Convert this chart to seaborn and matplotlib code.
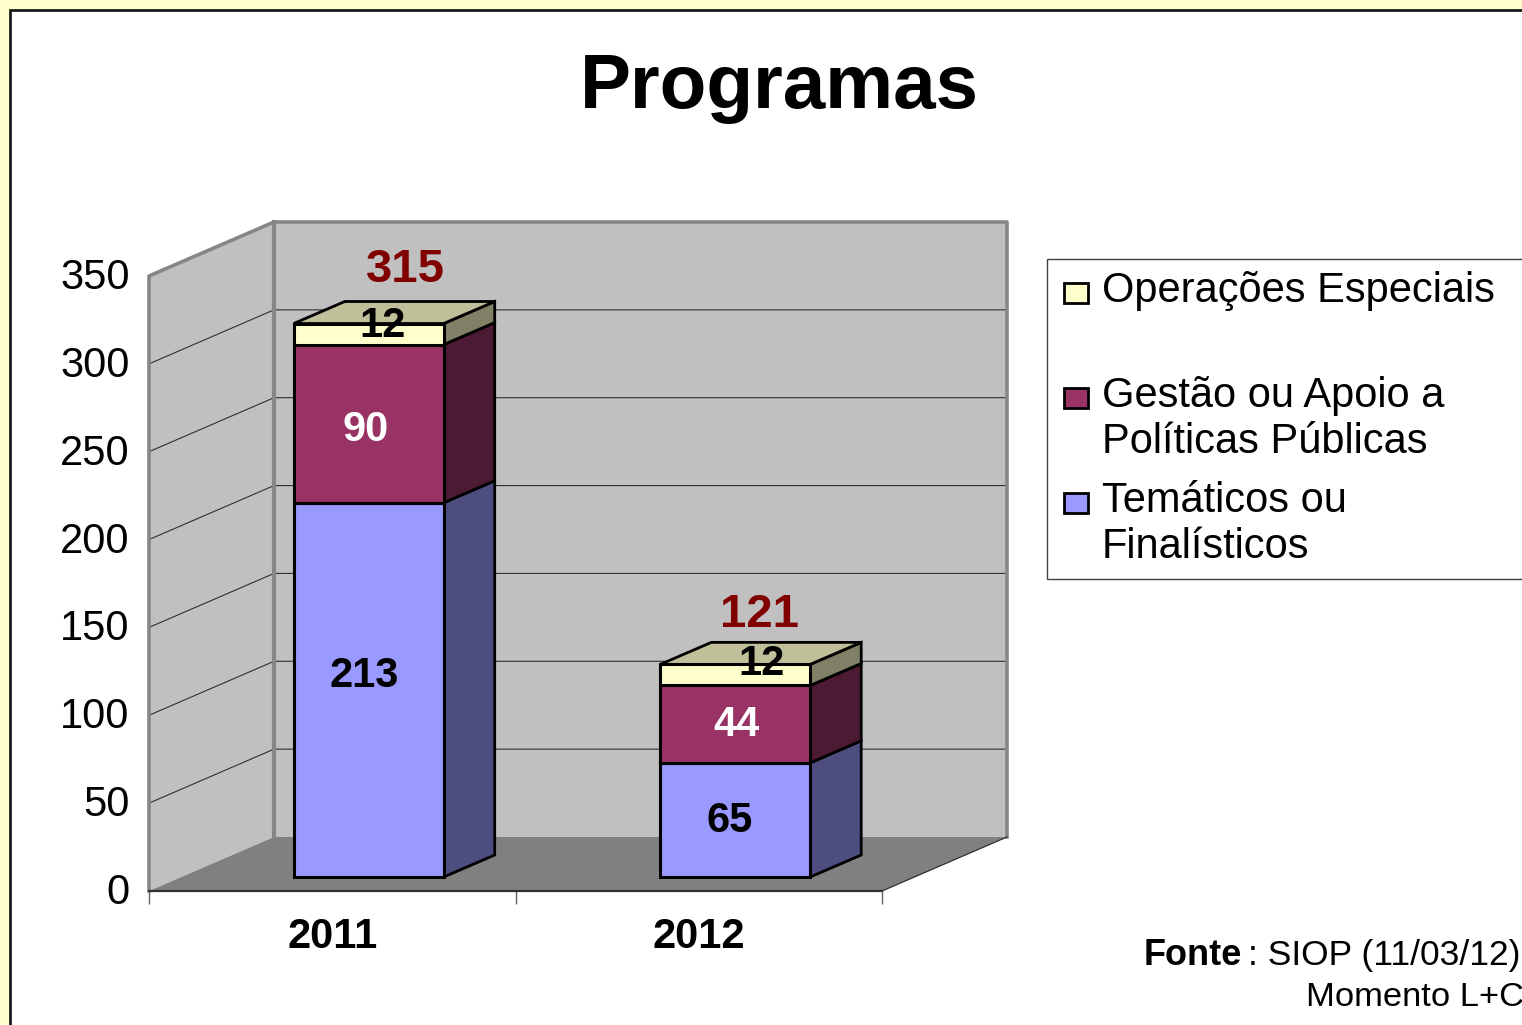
import matplotlib
matplotlib.use("Agg")
import matplotlib.pyplot as plt
import numpy as np
import seaborn as sns
from matplotlib.legend_handler import HandlerPatch
from matplotlib.patches import Patch, Polygon, Rectangle
from matplotlib.transforms import Affine2D, IdentityTransform

# data
YEARS = ["2011", "2012"]
TEMATICOS = [213, 65]
GESTAO = [90, 44]
OPERACOES = [12, 12]
TOTALS = [315, 121]
Y_TICKS = [0, 50, 100, 150, 200, 250, 300, 350]

# look
W, H = 1522, 1025
WALL_SHIFT = (125, 54)
BAR_SHIFT = (36.5, 14)
BAR_DEPTH = (51, 22)
WALL = "#C0C0C0"
WALL_EDGE = "#868686"
FLOOR = "#808080"
FRONT = ["#9999FF", "#993366", "#FFFFCC"]
SIDE = ["#4D4D80", "#4D1A33", "#808066"]
TOP = "#BFBF99"
RED = "#800000"

sns.set_theme(style="white")
plt.rcParams["font.family"] = ["Liberation Sans", "DejaVu Sans"]

fig = plt.figure(figsize=(W / 100, H / 100), dpi=100, facecolor="#FFFFCC")
ax = fig.add_axes([149 / W, (H - 891) / H, 733 / W, 615 / H])
ax.patch.set_visible(False)

# white slide panel with its dark corner
fig.patches.append(Rectangle((10, -5), W, H - 5, transform=IdentityTransform(), facecolor="white",
                             edgecolor="#1A1A1A", linewidth=2, zorder=-5))

bottom = np.zeros(len(YEARS))
stacks = []
for values, color in zip([TEMATICOS, GESTAO, OPERACOES], FRONT):
    sns.barplot(x=YEARS, y=values, bottom=bottom, color=color, saturation=1, width=0.409,
                edgecolor="black", linewidth=2.2, errorbar=None, ax=ax, zorder=3)
    stacks.append(ax.containers[-1])
    bottom = bottom + np.array(values)

ax.set_xlim(-0.5, 1.5)
ax.set_ylim(0, 350)


def to_px(x, y, shift=(0, 0)):
    px = ax.transData.transform((x, y))
    return px[0] + shift[0], px[1] + shift[1]


def face(points, color, edge="none", lw=0.0, z=1.0):
    ax.add_patch(Polygon(points, closed=True, transform=IdentityTransform(), facecolor=color,
                         edgecolor=edge, linewidth=lw, zorder=z, clip_on=False, joinstyle="miter"))


def wire(points, color, lw, z=1.2):
    xs, ys = zip(*points)
    ax.plot(xs, ys, color=color, lw=lw, transform=IdentityTransform(), zorder=z,
            clip_on=False, solid_capstyle="projecting")


# walls and floor
fl, fr = to_px(-0.5, 0), to_px(1.5, 0)
tl, tr = to_px(-0.5, 350), to_px(1.5, 350)
bl, br = to_px(-0.5, 0, WALL_SHIFT), to_px(1.5, 0, WALL_SHIFT)
btl, btr = to_px(-0.5, 350, WALL_SHIFT), to_px(1.5, 350, WALL_SHIFT)
face([bl, br, btr, btl], WALL)
face([fl, bl, btl, tl], WALL)
face([fl, fr, br, bl], FLOOR, z=1.05)
for t in Y_TICKS[1:-1]:
    wire([to_px(-0.5, t), to_px(-0.5, t, WALL_SHIFT), to_px(1.5, t, WALL_SHIFT)], "#303030", 0.8, 1.1)
wire([fl, tl, btl, btr, br], WALL_EDGE, 2.6)
wire([bl, btl], WALL_EDGE, 3.0)
wire([fr, br], "#303030", 0.9)
wire([fl, fr], "#303030", 1.6)

# depth of the bars, built from the bars seaborn drew
bar_tr = ax.transData + Affine2D().translate(*BAR_SHIFT)
for k, bars in enumerate(stacks):
    for bar in bars:
        bar.set_transform(bar_tr)
        bar.set_clip_on(False)
        x1 = bar.get_x() + bar.get_width()
        y0, y1 = bar.get_y(), bar.get_y() + bar.get_height()
        a = to_px(x1, y0, BAR_SHIFT)
        b = to_px(x1, y1, BAR_SHIFT)
        c = (b[0] + BAR_DEPTH[0], b[1] + BAR_DEPTH[1])
        d = (a[0] + BAR_DEPTH[0], a[1] + BAR_DEPTH[1])
        face([a, b, c, d], SIDE[k], "black", 2.0, 2.5)
        if k == len(stacks) - 1:
            e = to_px(bar.get_x(), y1, BAR_SHIFT)
            f = (e[0] + BAR_DEPTH[0], e[1] + BAR_DEPTH[1])
            face([e, b, c, f], TOP, "black", 2.0, 2.5)

# value labels, nudged by hand from the bar centres
label_nudge = [[(-5, 18), (-6, 3)], [(-3, -2), (1, 4)], [(14, 13), (26, 15)]]
label_color = ["black", "white", "black"]
for k, (bars, values) in enumerate(zip(stacks, [TEMATICOS, GESTAO, OPERACOES])):
    for j, (bar, v) in enumerate(zip(bars, values)):
        px = to_px(bar.get_x() + bar.get_width() / 2, bar.get_y() + bar.get_height() / 2, BAR_SHIFT)
        nudge = label_nudge[k][j]
        ax.text(px[0] + nudge[0], px[1] + nudge[1], str(v), transform=IdentityTransform(),
                ha="center", va="center_baseline", fontsize=30, fontweight="bold",
                color=label_color[k], zorder=5)
for j, (bar, total) in enumerate(zip(stacks[-1], TOTALS)):
    px = to_px(bar.get_x() + bar.get_width() / 2, bar.get_y() + bar.get_height(), BAR_SHIFT)
    ax.annotate(str(total), xy=px, xycoords=IdentityTransform(), xytext=(37 if j == 0 else 24, 59 if j == 0 else 54),
                textcoords="offset pixels", ha="center", va="center_baseline",
                fontsize=34, fontweight="bold", color=RED, zorder=5)

# axes
sns.despine(ax=ax, left=True, bottom=True)
ax.set_yticks(Y_TICKS)
ax.tick_params(axis="y", length=0, pad=14, labelsize=30, labelcolor="black")
for lab in ax.get_yticklabels():
    lab.set_transform(lab.get_transform() + Affine2D().translate(0, 2.5))
ax.set_xticks([0, 1], YEARS)
ax.tick_params(axis="x", which="major", length=0, pad=19)
for lab in ax.get_xticklabels():
    lab.set_fontsize(30)
    lab.set_fontweight("bold")
    lab.set_color("black")
ax.set_xticks([-0.5, 0.5, 1.5], minor=True)
ax.tick_params(axis="x", which="minor", bottom=True, length=9, width=1, color="#606060")
ax.set_xlabel("")
ax.set_ylabel("")
ax.grid(False)

fig.text(779 / W, (H - 108) / H, "Programas", ha="center", va="baseline", fontsize=55,
         fontweight="bold", color="black")


# legend markers sit on the first line of each two-line label
def first_line_marker(legend, orig_handle, xdescent, ydescent, width, height, fontsize):
    return Rectangle((-xdescent + 3.9, -ydescent + 17.1), 17.3, 14.4)


handles = [Patch(facecolor=c, edgecolor="black", linewidth=2) for c in FRONT[::-1]]
labels = ["Operações Especiais\n ", "Gestão ou Apoio a\nPolíticas Públicas", "Temáticos ou\nFinalísticos"]
leg = fig.legend(handles, labels, loc="upper left", bbox_to_anchor=(1047 / W, (H - 259) / H, 530 / W, 0),
                 mode="expand", borderaxespad=0, frameon=True, fancybox=False, edgecolor="#404040",
                 facecolor="white", framealpha=1, fontsize=30, handlelength=0.7, handleheight=0.5,
                 handletextpad=0.34, borderpad=0.28, labelspacing=0.455, labelcolor="black",
                 handler_map={Patch: HandlerPatch(patch_func=first_line_marker)})
leg.get_frame().set_linewidth(1)
for t in leg.get_texts():
    t.set_linespacing(1.2)

fig.text(1144 / W, (H - 965) / H, "Fonte", fontsize=26, fontweight="bold", color="black")
fig.text(1521 / W, (H - 965) / H, ": SIOP (11/03/12)", fontsize=25.5, ha="right", color="black")
fig.text(1306 / W, (H - 1006) / H, "Momento L+C", fontsize=24.8, color="black")

fig.savefig("out.png", dpi=100, facecolor=fig.get_facecolor())
